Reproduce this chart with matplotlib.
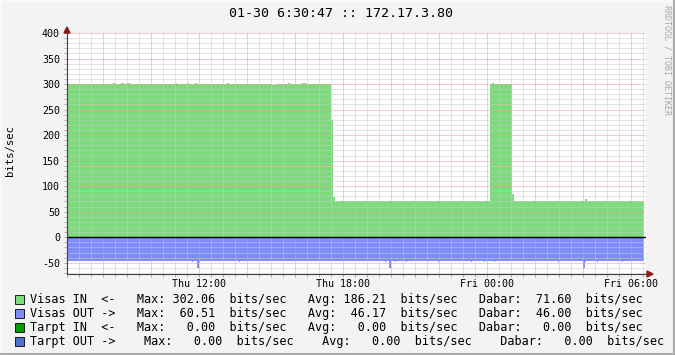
import matplotlib
matplotlib.use("Agg")
import matplotlib.pyplot as plt
from matplotlib.patches import Rectangle, Polygon
from matplotlib.lines import Line2D
from matplotlib.ticker import MultipleLocator, FuncFormatter

# ---------------- data (hours since Thu 00:00) ----------------
title = "01-30 6:30:47 :: 172.17.3.80"
y_label = "bits/sec"
watermark = "RRDTOOL / TOBI OETIKER"

# Visas IN: step changes (start hour, value)
in_hours = [6.50, 8.40, 8.50, 8.77, 8.88, 8.98, 9.13, 11.00, 11.10, 11.50, 11.60,
            11.83, 11.92, 13.17, 13.25, 15.00, 15.20, 15.70, 15.80, 16.30, 16.45,
            17.50, 17.58, 17.67, 24.13, 24.20, 24.30, 25.04, 25.13, 28.08, 28.17, 30.54]
in_values = [300, 302, 300, 302, 300, 302, 300, 302, 300, 302, 300,
             302, 300, 302, 300, 299, 300, 302, 300, 302, 300,
             229, 79, 71, 300, 302, 300, 84, 71, 74, 71, 71]

# Visas OUT (drawn negative): step changes (start hour, value)
out_hours = [6.50, 11.70, 11.74, 11.93, 12.01, 12.05, 13.67, 13.71, 19.75, 19.79,
             19.92, 20.00, 20.17, 20.21, 20.62, 20.66, 21.50, 21.54, 21.94, 21.98,
             23.33, 23.37, 23.88, 23.92, 24.29, 24.33, 26.96, 27.00, 28.00, 28.08,
             28.12, 28.58, 28.62, 29.63, 29.67, 30.54]
out_values = [-46, -48, -46, -61, -48, -46, -48, -46, -48, -46,
              -60, -46, -48, -46, -48, -46, -48, -46, -48, -46,
              -48, -46, -48, -46, -48, -46, -48, -46, -61, -48,
              -46, -48, -46, -48, -46, -46]

x_tick_hours = [12, 18, 24, 30]
x_tick_labels = ["Thu 12:00", "Thu 18:00", "Fri 00:00", "Fri 06:00"]

legend_colors = ["#7ddb7d", "#7f8cff", "#00a000", "#5070d0"]
legend_lines = [
    "Visas IN  <-   Max: 302.06  bits/sec   Avg: 186.21  bits/sec   Dabar:  71.60  bits/sec",
    "Visas OUT ->   Max:  60.51  bits/sec   Avg:  46.17  bits/sec   Dabar:  46.00  bits/sec",
    "Tarpt IN  <-   Max:   0.00  bits/sec   Avg:   0.00  bits/sec   Dabar:   0.00  bits/sec",
    "Tarpt OUT ->    Max:   0.00  bits/sec    Avg:   0.00  bits/sec    Dabar:   0.00  bits/sec",
]

# ---------------- figure ----------------
W, H = 675, 355
MONO = "DejaVu Sans Mono"
plt.rcParams["font.family"] = MONO

fig = plt.figure(figsize=(W / 100, H / 100), dpi=100, facecolor="#f3f3f3")

def fx(px):
    return px / W

def fy(py):
    return 1 - py / H

ax = fig.add_axes([fx(67), fy(274), (646 - 67) / W, (274 - 33) / H], facecolor="white")

ax.fill_between(in_hours, in_values, 0, step="post", color=legend_colors[0], lw=0, zorder=1)
ax.fill_between(out_hours, out_values, 0, step="post", color=legend_colors[1], lw=0, zorder=1)
ax.axhline(0, color="black", lw=1.0, zorder=4)

ax.set_xlim(6.5, 6.5 + (646 - 67) / 24)
ax.set_ylim(-72, 400)

ax.xaxis.set_major_locator(MultipleLocator(2))
ax.xaxis.set_minor_locator(MultipleLocator(0.5))
lab = dict(zip(x_tick_hours, x_tick_labels))
ax.xaxis.set_major_formatter(FuncFormatter(lambda v, p: lab.get(int(round(v)), "") if abs(v - round(v)) < 1e-6 else ""))
ax.yaxis.set_major_locator(MultipleLocator(50))
ax.yaxis.set_minor_locator(MultipleLocator(10))
ax.yaxis.set_major_formatter(FuncFormatter(lambda v, p: f"{int(v)}"))

ax.set_axisbelow(False)
ax.grid(which="minor", color="#c8c8c8", ls=(0, (1, 1)), lw=0.72, zorder=2)
ax.grid(which="major", color="#eb9a9a", ls=(0, (1, 1)), lw=0.72, zorder=3)

ax.tick_params(which="both", direction="out", color="#b0b0b0", width=0.72)
ax.tick_params(which="major", length=2.5, labelsize=7.2, labelcolor="black")
ax.tick_params(which="minor", length=2.0)
ax.tick_params(axis="x", which="major", pad=0.8)
ax.tick_params(axis="y", which="major", pad=2.5)

for s in ["top", "right"]:
    ax.spines[s].set_visible(False)
for s in ["left", "bottom"]:
    ax.spines[s].set_color("#404040")
    ax.spines[s].set_linewidth(0.8)
    ax.spines[s].set_zorder(5)

# axis arrows
fig.add_artist(Polygon([[fx(647), fy(271)], [fx(647), fy(277)], [fx(653), fy(274)]],
                       closed=True, color="#8b1a1a", transform=fig.transFigure))
fig.add_artist(Polygon([[fx(64), fy(33)], [fx(70), fy(33)], [fx(67), fy(27)]],
                       closed=True, color="#8b1a1a", transform=fig.transFigure))

# title, y label, watermark
fig.text(fx(341), fy(13.5), title, ha="center", va="center", fontsize=9.6, family=MONO)
fig.text(fx(10), fy(150), y_label, rotation=90, ha="center", va="center", fontsize=7.6, family=MONO)
fig.text(fx(667), fy(5), watermark, rotation=270, ha="center", va="top", fontsize=6,
         color="#a8a8a8", family=MONO)

# legend
row_y = [299, 313.3, 327.3, 341.3]
for c, line, yy in zip(legend_colors, legend_lines, row_y):
    fig.add_artist(Rectangle((fx(15), fy(yy + 4.5)), 9 / W, 9 / H, facecolor=c,
                             edgecolor="black", lw=0.6, transform=fig.transFigure))
    fig.text(fx(30), fy(yy), line, ha="left", va="center", fontsize=8.45, family=MONO)

# frame
fig.add_artist(Line2D([fx(0.5), fx(674.5)], [fy(0.5), fy(0.5)], color="#fafafa", lw=1.4, transform=fig.transFigure))
fig.add_artist(Line2D([fx(0.5), fx(0.5)], [fy(0.5), fy(354.5)], color="#fafafa", lw=1.4, transform=fig.transFigure))
fig.add_artist(Line2D([fx(0), fx(675)], [fy(354.3), fy(354.3)], color="#a8a8a8", lw=1.4, transform=fig.transFigure))
fig.add_artist(Line2D([fx(674.3), fx(674.3)], [fy(0), fy(355)], color="#a8a8a8", lw=1.4, transform=fig.transFigure))

fig.savefig("out.png", dpi=100, facecolor=fig.get_facecolor())
